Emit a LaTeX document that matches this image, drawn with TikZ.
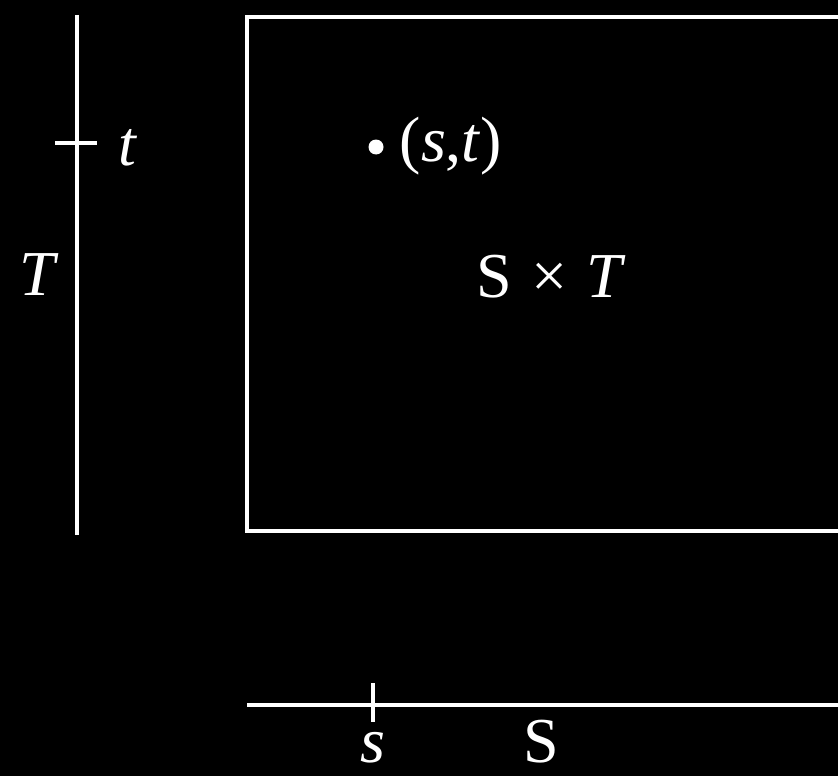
\documentclass[tikz,border=0pt]{standalone}
\usepackage{fontspec}
\setmainfont{Liberation Serif}
\begin{document}
\begin{tikzpicture}[x=1pt,y=-1pt,
  ln/.style={draw=white,line width=3.5pt},
  lbl/.style={text=white,anchor=base,inner sep=0pt,font=\fontsize{64}{70}\selectfont}]
\fill[black] (0,0) rectangle (838,776);
\useasboundingbox (0,0) rectangle (838,776);
\clip (0,0) rectangle (838,776);
% product rectangle (right side runs off the picture)
\draw[ln] (247,17) rectangle (900,531);
% T axis
\coordinate (Ttop) at (77,15);
\coordinate (Tbot) at (77,535);
\draw[ln] (Ttop) -- (Tbot);
\coordinate (tl) at (55,143);
\coordinate (tr) at (97,143);
\draw[ln] (tl) -- (tr);
\node[lbl] (tlab) at (127,165) {\itshape t};
\node[lbl] (Tlab) at (37,295) {\itshape T};
% S axis
\coordinate (Sl) at (247,705);
\coordinate (Sr) at (900,705);
\draw[ln] (Sl) -- (Sr);
\coordinate (st) at (373,683);
\coordinate (sb) at (373,722);
\draw[ln] (st) -- (sb);
\node[lbl] (slab) at (373,762) {\itshape s};
\node[lbl] (Slab) at (541,762) {S};
% point and labels
\fill[white] (376,147) circle (7.5);
\node[lbl] (pt) at (451,161) {(\textit{s},\textit{t})};
\node[lbl] (prod) at (551,297) {S\hspace{0.3em}×\hspace{0.3em}\textit{T}};
\end{tikzpicture}
\end{document}
